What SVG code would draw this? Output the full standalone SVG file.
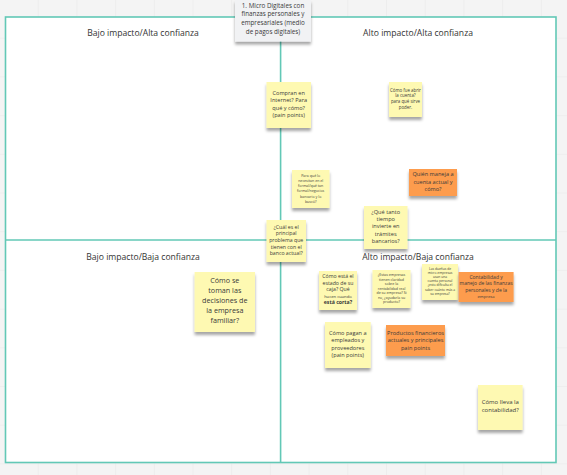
<svg xmlns="http://www.w3.org/2000/svg" width="567" height="475" viewBox="0 0 567 475">
<defs>
<filter id="sh" x="-20%" y="-20%" width="140%" height="150%">
<feDropShadow dx="0" dy="3" stdDeviation="1.8" flood-color="#000" flood-opacity="0.35"/>
</filter>
<pattern id="grid" width="38.7" height="38.7" patternUnits="userSpaceOnUse">
<rect width="38.7" height="38.7" fill="#f4f4f4"/>
<path d="M38.7 0V38.7H0" fill="none" stroke="#e8e8e8" stroke-width="1"/>
</pattern>
</defs>
<style>
text{font-family:"Open Sans","Liberation Sans",sans-serif;fill:#3a3a3a;text-anchor:middle}
.q{font-size:8.6px;fill:#333}
.y{fill:#fef9b2}
.o{fill:#fd9c4d}
.n{font-size:5.6px}
.s{font-size:3.6px}
.l{font-size:7.2px}
.frame{fill:#fff;stroke:#62c8b6;stroke-width:1.6}
.ax{stroke:#62c8b6;stroke-width:1.6}
</style>
<rect width="567" height="475" fill="url(#grid)"/>
<g id="matrix">
<rect class="frame" x="5.5" y="17" width="550.5" height="445.5"/>
<line class="ax" x1="280.6" y1="17" x2="280.6" y2="462.5"/>
<line class="ax" x1="5.5" y1="240" x2="556" y2="240"/>
<text class="q" x="143" y="36">Bajo impacto/Alta confianza</text>
<text class="q" x="418" y="36">Alto impacto/Alta confianza</text>
<text class="q" x="143" y="260">Bajo impacto/Baja confianza</text>
<text class="q" x="418" y="260">Alto impacto/Baja confianza</text>
</g>
<g id="title">
<rect x="235" y="0" width="76" height="41.5" fill="#f1f2f4" filter="url(#sh)"/>
<text font-size="6.3" fill="#444"><tspan x="273" y="7.5">1. Micro Digitales con</tspan><tspan x="273" y="16.3">finanzas personales y</tspan><tspan x="273" y="25.1">empresariales (medio</tspan><tspan x="273" y="33.9">de pagos digitales)</tspan></text>
</g>
<g id="n1">
<rect class="y" x="266.5" y="82" width="44.5" height="46" filter="url(#sh)"/>
<text class="n"><tspan x="288.7" y="95">Compran en</tspan><tspan x="288.7" y="102.3">Internet? Para</tspan><tspan x="288.7" y="109.6">qué y cómo?</tspan><tspan x="288.7" y="116.9">(pain points)</tspan></text>
</g>
<g id="n2">
<rect class="y" x="389" y="82" width="33" height="35" filter="url(#sh)"/>
<text font-size="4.4"><tspan x="405.5" y="91.5">Cómo fue abrir</tspan><tspan x="405.5" y="97.2">la cuenta?</tspan><tspan x="405.5" y="102.9">para qué sirve</tspan><tspan x="405.5" y="108.6">poder.</tspan></text>
</g>
<g id="n3">
<rect class="y" x="292" y="170" width="37.5" height="38" filter="url(#sh)"/>
<text class="s"><tspan x="310.7" y="176.5">Para qué lo</tspan><tspan x="310.7" y="181.8">necesitan en el</tspan><tspan x="310.7" y="187.1">formal/qué tan</tspan><tspan x="310.7" y="192.4">formal/negocios</tspan><tspan x="310.7" y="197.7">bancario y lo</tspan><tspan x="310.7" y="203">buscó?</tspan></text>
</g>
<g id="n4">
<rect class="o" x="409" y="169" width="48" height="27" filter="url(#sh)"/>
<text class="n"><tspan x="433" y="176">Quién maneja a</tspan><tspan x="433" y="183.5">cuenta actual y</tspan><tspan x="433" y="191">cómo?</tspan></text>
</g>
<g id="n5">
<rect class="y" x="364" y="206" width="43.5" height="43" filter="url(#sh)"/>
<text class="n"><tspan x="385.7" y="214">¿Qué tanto</tspan><tspan x="385.7" y="221.2">tiempo</tspan><tspan x="385.7" y="228.4">invierte en</tspan><tspan x="385.7" y="235.6">trámites</tspan><tspan x="385.7" y="242.8">bancarios?</tspan></text>
</g>
<g id="n6">
<rect class="y" x="266.5" y="220" width="39.5" height="42" filter="url(#sh)"/>
<text font-size="5.2"><tspan x="286.2" y="228.5">¿Cuál es el</tspan><tspan x="286.2" y="235.2">principal</tspan><tspan x="286.2" y="241.9">problema que</tspan><tspan x="286.2" y="248.6">tienen con el</tspan><tspan x="286.2" y="255.3">banco actual?</tspan></text>
</g>
<g id="n7">
<rect class="y" x="194.6" y="272" width="60.4" height="60" filter="url(#sh)"/>
<text class="l"><tspan x="224.8" y="283">Cómo se</tspan><tspan x="224.8" y="293">toman las</tspan><tspan x="224.8" y="303">decisiones de</tspan><tspan x="224.8" y="313">la empresa</tspan><tspan x="224.8" y="322.8">familiar?</tspan></text>
</g>
<g id="n8">
<rect class="y" x="319" y="271" width="38" height="39" filter="url(#sh)"/>
<text font-size="5.2"><tspan x="338" y="278">Cómo está el</tspan><tspan x="338" y="284.7">estado de su</tspan><tspan x="338" y="291.2">caja? Qué</tspan><tspan x="338" y="297.5" font-size="4.2">hacen cuando</tspan><tspan x="338" y="304" font-weight="bold">está corta?</tspan></text>
</g>
<g id="n9">
<rect class="y" x="372.5" y="270" width="38" height="38" filter="url(#sh)"/>
<text class="s"><tspan x="391.5" y="276">¿Estas empresas</tspan><tspan x="391.5" y="280.5">tienen claridad</tspan><tspan x="391.5" y="285">sobre la</tspan><tspan x="391.5" y="289.5">rentabilidad real</tspan><tspan x="391.5" y="294">de su empresa? Si</tspan><tspan x="391.5" y="298.5">no, ¿ayudaría su</tspan><tspan x="391.5" y="303">producto?</tspan></text>
</g>
<g id="n10">
<rect class="y" x="422" y="264" width="36" height="36" filter="url(#sh)"/>
<text font-size="3.3"><tspan x="440" y="269.5">Las dueñas de</tspan><tspan x="440" y="273.7">micro empresas</tspan><tspan x="440" y="277.9">usan una</tspan><tspan x="440" y="282.1">cuenta personal</tspan><tspan x="440" y="286.3">¿esto dificulta el</tspan><tspan x="440" y="290.5">saber cuánto más a</tspan><tspan x="440" y="294.7">su empresa?</tspan></text>
</g>
<g id="n11">
<rect class="o" x="458.6" y="272" width="55" height="30" filter="url(#sh)"/>
<text font-size="5"><tspan x="486.1" y="279">Contabilidad y</tspan><tspan x="486.1" y="285.3">manejo de las finanzas</tspan><tspan x="486.1" y="291.6">personales y de la</tspan><tspan x="486.1" y="297.9" font-size="4.2">empresa</tspan></text>
</g>
<g id="n12">
<rect class="y" x="325" y="322" width="45.7" height="46" filter="url(#sh)"/>
<text class="n"><tspan x="347.8" y="335">Cómo pagan a</tspan><tspan x="347.8" y="342.4">empleados y</tspan><tspan x="347.8" y="349.8">proveedores</tspan><tspan x="347.8" y="357.2">(pain points)</tspan></text>
</g>
<g id="n13">
<rect class="o" x="386" y="325" width="59" height="31" filter="url(#sh)"/>
<text class="n"><tspan x="415.5" y="335">Productos financieros</tspan><tspan x="415.5" y="342.3">actuales y principales</tspan><tspan x="415.5" y="349.6">pain points</tspan></text>
</g>
<g id="n14">
<rect class="y" x="478" y="385" width="44.6" height="45" filter="url(#sh)"/>
<text font-size="6"><tspan x="500.3" y="404">Cómo lleva la</tspan><tspan x="500.3" y="412">contabilidad?</tspan></text>
</g>
</svg>
